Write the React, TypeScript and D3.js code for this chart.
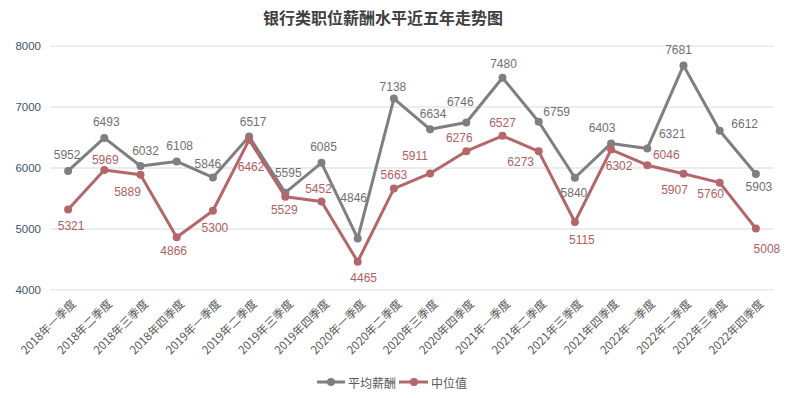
import React from "react";
import * as d3 from "d3";

const title = "银行类职位薪酬水平近五年走势图";

const quarters = [
  "2018年一季度", "2018年二季度", "2018年三季度", "2018年四季度",
  "2019年一季度", "2019年二季度", "2019年三季度", "2019年四季度",
  "2020年一季度", "2020年二季度", "2020年三季度", "2020年四季度",
  "2021年一季度", "2021年二季度", "2021年三季度", "2021年四季度",
  "2022年一季度", "2022年二季度", "2022年三季度", "2022年四季度",
];

const avgName = "平均薪酬";
const avgSalary = [
  5952, 6493, 6032, 6108, 5846, 6517, 5595, 6085, 4846, 7138,
  6634, 6746, 7480, 6759, 5840, 6403, 6321, 7681, 6612, 5903,
];

const medianName = "中位值";
const medianSalary = [
  5321, 5969, 5889, 4866, 5300, 6462, 5529, 5452, 4465, 5663,
  5911, 6276, 6527, 6273, 5115, 6302, 6046, 5907, 5760, 5008,
];

const yTicks = [4000, 5000, 6000, 7000, 8000];

// label offsets (dx, dy) from the point, like the hand-placed labels in the original
const avgLabelOffset = [
  [-1, -16], [2, -16], [5, -15], [3, -15], [-5, -13], [4, -14], [3, -20], [2, -16],
  [-4, -40], [-1, -12], [3, -15], [-6, -20], [1, -14], [18, -10], [-1, 15], [-9, -15],
  [25, -14], [-5, -15], [25, -7], [3, 13],
];
const medianLabelOffset = [
  [3, 17], [1, -10], [-13, 17], [-3, 14], [2, 17], [2, 27], [-1, 13], [-3, -12],
  [6, 16], [0, -14], [-15, -17], [-7, -13], [0, -13], [-18, 11], [7, 18], [8, 16],
  [19, -10], [-9, 16], [-9, 11], [11, 20],
];

const W = 786;
const H = 398;
const plot = { left: 50, right: 774, top: 46, bottom: 290 };

const grayColor = "#7f7f7f";
const redColor = "#b4676a";
const numFont = "'Liberation Sans', 'Noto Sans CJK SC', sans-serif";
const cjkFont = "'Noto Sans CJK SC', sans-serif";

export default function App() {
  const x = d3
    .scaleBand<string>()
    .domain(quarters)
    .range([plot.left, plot.right]);
  const cx = (i: number) => (x(quarters[i]) ?? 0) + x.bandwidth() / 2;

  const y = d3.scaleLinear().domain([4000, 8000]).range([plot.bottom, plot.top]);

  const line = d3
    .line<number>()
    .x((_, i) => cx(i))
    .y((d) => y(d));

  const series = [
    { name: avgName, values: avgSalary, color: grayColor, labelColor: "#707070", offs: avgLabelOffset },
    { name: medianName, values: medianSalary, color: redColor, labelColor: "#b0605f", offs: medianLabelOffset },
  ];

  return (
    <svg
      width={W}
      height={H}
      style={{ position: "absolute", left: 0, top: 0, background: "#fff" }}
    >
      <text
        x={383}
        y={17}
        textAnchor="middle"
        dominantBaseline="central"
        fontFamily={cjkFont}
        fontSize={16}
        fontWeight="bold"
        fill="#404040"
      >
        {title}
      </text>

      {yTicks.map((t) => (
        <g key={t}>
          <line
            x1={plot.left}
            x2={plot.right}
            y1={y(t)}
            y2={y(t)}
            stroke="#d9d9d9"
            strokeWidth={1}
          />
          <text
            x={41}
            y={y(t)}
            textAnchor="end"
            dominantBaseline="central"
            fontFamily={numFont}
            fontSize={11.5}
            fill="#44546a"
          >
            {t}
          </text>
        </g>
      ))}

      {quarters.map((q, i) => (
        <text
          key={q}
          transform={`translate(${cx(i) + 5},${plot.bottom + 11}) rotate(-45)`}
          textAnchor="end"
          dominantBaseline="central"
          fontFamily={cjkFont}
          fontSize={11.5}
          fill="#595959"
        >
          {q}
        </text>
      ))}

      {series.map((s) => (
        <g key={s.name}>
          <path
            d={line(s.values) ?? ""}
            fill="none"
            stroke={s.color}
            strokeWidth={3}
            strokeLinejoin="round"
          />
          {s.values.map((v, i) => (
            <circle key={i} cx={cx(i)} cy={y(v)} r={4} fill={s.color} />
          ))}
        </g>
      ))}

      {series.map((s) => (
        <g key={s.name + "-labels"}>
          {s.values.map((v, i) => (
            <text
              key={i}
              x={cx(i) + s.offs[i][0]}
              y={y(v) + s.offs[i][1]}
              textAnchor="middle"
              dominantBaseline="central"
              fontFamily={numFont}
              fontSize={12}
              fill={s.labelColor}
            >
              {v}
            </text>
          ))}
        </g>
      ))}

      <g transform="translate(317,382)">
        <line x1={0} x2={28} y1={0} y2={0} stroke={grayColor} strokeWidth={3} />
        <circle cx={14} cy={0} r={4} fill={grayColor} />
        <text
          x={31}
          y={0}
          dominantBaseline="central"
          fontFamily={cjkFont}
          fontSize={12}
          fill="#595959"
        >
          {avgName}
        </text>
        <line x1={82} x2={111} y1={0} y2={0} stroke={redColor} strokeWidth={3} />
        <circle cx={97} cy={0} r={4} fill={redColor} />
        <text
          x={114}
          y={0}
          dominantBaseline="central"
          fontFamily={cjkFont}
          fontSize={12}
          fill="#595959"
        >
          {medianName}
        </text>
      </g>
    </svg>
  );
}
